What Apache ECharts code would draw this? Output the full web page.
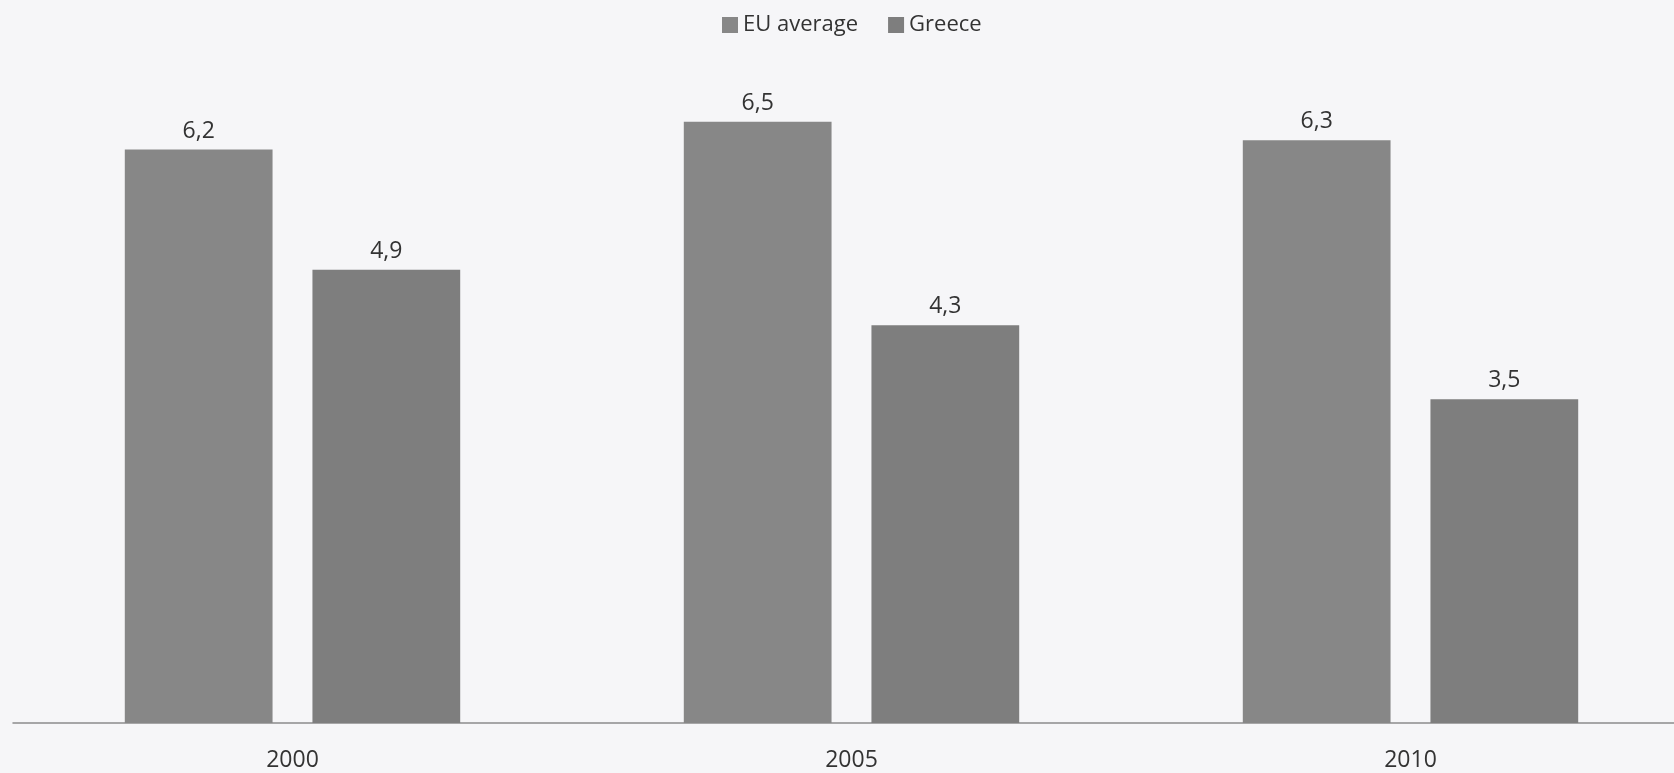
<!DOCTYPE html>
<html>
<head>
<meta charset="utf-8">
<script src="https://cdn.jsdelivr.net/npm/echarts@6/dist/echarts.min.js"></script>
<style>
  html, body { margin: 0; padding: 0; background: #f6f6f8; }
  #chart { width: 1674px; height: 773px; }
</style>
</head>
<body>
<div id="chart"></div>
<script>
// Years on the category axis
const years = ['2000', '2005', '2010'];
// Values per series
const euAverage = [6.2, 6.5, 6.3];
const greece = [4.9, 4.3, 3.5];

const fmt = v => String(v).replace('.', ',');
const font = '"Open Sans", "Liberation Sans", sans-serif';

const chart = echarts.init(document.getElementById('chart'));
chart.setOption({
  backgroundColor: '#f6f6f8',
  animation: false,
  legend: {
    top: 9,
    left: 717,
    itemWidth: 16,
    itemHeight: 16,
    itemGap: 30,
    icon: 'rect',
    textStyle: { fontFamily: font, fontSize: 22, color: '#333' },
    data: ['EU average', 'Greece']
  },
  grid: {
    left: 13, width: 1677, top: 75.5, height: 647.5,
    containLabel: false,
    outerBoundsMode: 'none'
  },
  xAxis: {
    type: 'category',
    data: years,
    axisTick: { show: false },
    axisLine: { lineStyle: { color: '#8c8c8c', width: 1.5 } },
    axisLabel: { fontFamily: font, fontSize: 23, color: '#333', margin: 26 }
  },
  yAxis: {
    type: 'value',
    min: 0,
    max: 7,
    show: false,
    splitLine: { show: false }
  },
  series: [
    {
      name: 'EU average',
      type: 'bar',
      data: euAverage,
      barGap: '27%',
      barCategoryGap: '40%',
      itemStyle: { color: '#878787' },
      label: {
        show: true,
        position: 'top',
        distance: 7,
        formatter: p => fmt(p.value),
        fontFamily: font,
        fontSize: 23,
        color: '#333'
      }
    },
    {
      name: 'Greece',
      type: 'bar',
      data: greece,
      itemStyle: { color: '#7e7e7e' },
      label: {
        show: true,
        position: 'top',
        distance: 7,
        formatter: p => fmt(p.value),
        fontFamily: font,
        fontSize: 23,
        color: '#333'
      }
    }
  ]
});
</script>
</body>
</html>
